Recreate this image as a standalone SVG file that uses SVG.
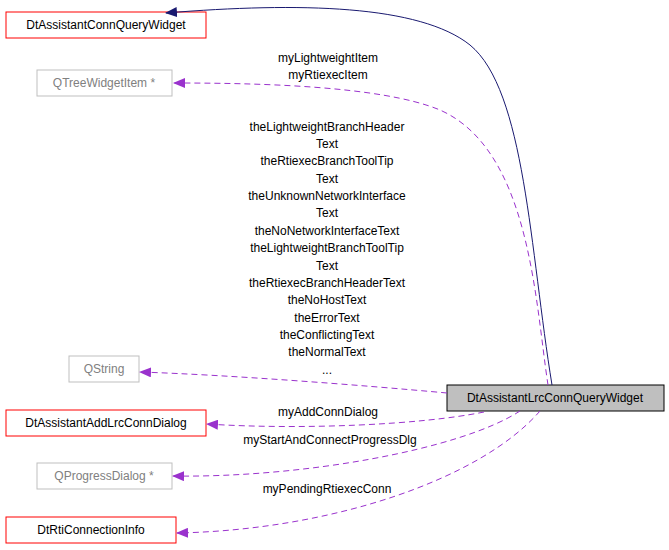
<svg xmlns="http://www.w3.org/2000/svg" width="669" height="550" viewBox="0 0 669 550">
<style>
text{font-family:"Liberation Sans",Arial,sans-serif;font-size:12px;text-anchor:middle;fill:#000}
.r{fill:#fff;stroke:#ff0000;stroke-width:1}
.g{fill:#fff;stroke:#bfbfbf;stroke-width:1}
.gt{fill:#808080}
.d{fill:none;stroke:#9a32cd;stroke-dasharray:6,4}
</style>
<defs>
<marker id="ap" markerWidth="12" markerHeight="10" refX="11" refY="5" orient="auto" markerUnits="userSpaceOnUse"><path d="M0,0 L12,5 L0,10 Z" fill="#9a32cd"/></marker>
<marker id="an" markerWidth="12" markerHeight="10" refX="11" refY="5" orient="auto" markerUnits="userSpaceOnUse"><path d="M0,0 L12,5 L0,10 Z" fill="#191970"/></marker>
</defs>
<g id="n1"><rect class="r" x="6" y="12" width="200" height="26"/><text x="106" y="29">DtAssistantConnQueryWidget</text></g>
<g id="n2"><rect class="g" x="37" y="70" width="135" height="26"/><text class="gt" x="104" y="87">QTreeWidgetItem *</text></g>
<g id="n3"><rect class="g" x="69" y="356" width="70" height="26"/><text class="gt" x="104" y="373">QString</text></g>
<g id="n4"><rect class="r" x="6" y="410" width="200" height="26"/><text x="106" y="427">DtAssistantAddLrcConnDialog</text></g>
<g id="n5"><rect class="g" x="37" y="463" width="135" height="26"/><text class="gt" x="104" y="480">QProgressDialog *</text></g>
<g id="n6"><rect class="r" x="6" y="517" width="170" height="26"/><text x="91" y="534">DtRtiConnectionInfo</text></g>
<g id="n7"><rect x="447" y="385" width="217" height="26" fill="#bfbfbf" stroke="#000"/><text x="555" y="402">DtAssistantLrcConnQueryWidget</text></g>
<g id="edges">
<path d="M552,385 C530,250 525,90 470,45 C420,5 300,2 166,13" fill="none" stroke="#191970" marker-end="url(#an)"/>
<path class="d" d="M548,385 C535,300 530,150 440,110 C380,85 250,83 174,83" marker-end="url(#ap)"/>
<path class="d" d="M447,393 C360,385 230,375 140,372" marker-end="url(#ap)"/>
<path class="d" d="M484,412 C420,425 300,430 207,424" marker-end="url(#ap)"/>
<path class="d" d="M520,411 C460,450 300,478 173,476" marker-end="url(#ap)"/>
<path class="d" d="M540,411 C480,480 330,530 177,533" marker-end="url(#ap)"/>
<text x="328" y="62">myLightweightItem</text>
<text x="328" y="79">myRtiexecItem</text>
<text x="327" y="131">theLightweightBranchHeader</text>
<text x="327" y="148">Text</text>
<text x="327" y="165">theRtiexecBranchToolTip</text>
<text x="327" y="183">Text</text>
<text x="327" y="200">theUnknownNetworkInterface</text>
<text x="327" y="217">Text</text>
<text x="327" y="235">theNoNetworkInterfaceText</text>
<text x="327" y="252">theLightweightBranchToolTip</text>
<text x="327" y="270">Text</text>
<text x="327" y="287">theRtiexecBranchHeaderText</text>
<text x="327" y="304">theNoHostText</text>
<text x="327" y="322">theErrorText</text>
<text x="327" y="339">theConflictingText</text>
<text x="327" y="356">theNormalText</text>
<text x="327" y="374">...</text>
<text x="328" y="416">myAddConnDialog</text>
<text x="330" y="444">myStartAndConnectProgressDlg</text>
<text x="327" y="493">myPendingRtiexecConn</text>
</g>
</svg>
